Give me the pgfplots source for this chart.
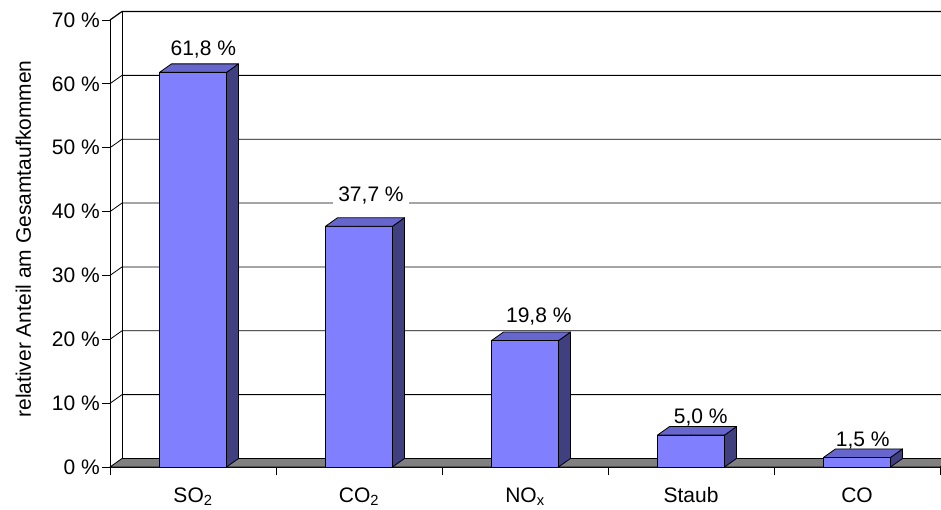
\documentclass[border=0pt]{standalone}
\usepackage{fontspec}
\setmainfont{Liberation Sans}
\usepackage{pgfplots}
\usepackage{pgfplotstable}
\pgfplotsset{compat=1.18}

\definecolor{barfront}{HTML}{8080FF}
\definecolor{bartop}{HTML}{6666CC}
\definecolor{barside}{HTML}{404080}
\definecolor{floorgray}{HTML}{808080}

% x = category centre, val = share in %, lx/ly = label offset (pt)
\pgfplotstableread{
x   val   lx    ly
0.5 61.8  10.3  16.4
1.5 37.7  12.0  24.6
2.5 19.8  13.8  18.3
3.5 5.0   9.8   11.8
4.5 1.5   5.8   10.7
}\emissions

\begin{document}
\begin{tikzpicture}[font=\fontsize{21}{25}\selectfont]
\begin{axis}[
  at={(110pt,42pt)}, anchor=south west,
  scale only axis,
  x=166pt, y=6.3857pt,
  xmin=0, xmax=5, ymin=0, ymax=70,
  clip=false,
  axis lines*=left,
  axis line style={-, line width=0.8pt},
  tick align=outside,
  major tick length=8pt,
  tick style={black, line width=0.8pt},
  xtick={0,1,2,3,4,5},
  xticklabels={},
  extra x ticks={0.5,1.5,2.5,3.5,4.5},
  extra x tick labels={SO\textsubscript{2},CO\textsubscript{2},NO\textsubscript{x},Staub,CO},
  extra x tick style={major tick length=0pt, tick label style={yshift=-17pt}},
  ytick={0,10,...,70},
  yticklabel={\pgfmathprintnumber{\tick}\ \%},
  /pgf/number format/assume math mode=true,
  tick label style={font=\fontsize{21}{25}\selectfont},
  yticklabel style={inner xsep=2pt},
]
% floor
\filldraw[fill=floorgray, draw=black, line width=0.8pt]
  (axis cs:0,0) -- ([shift={(12pt,8.5pt)}]axis cs:0,0)
  -- ([shift={(12pt,8.5pt)}]axis cs:5,0) -- (axis cs:5,0) -- cycle;
% side wall and back wall grid
\pgfplotsinvokeforeach{10,20,...,60}{
  \draw[black, line width=0.8pt] (axis cs:0,#1) -- ([shift={(12pt,8.5pt)}]axis cs:0,#1)
    -- ([shift={(12pt,8.5pt)}]axis cs:5,#1);
}
\draw[black, line width=1.2pt] (axis cs:0,70) -- ([shift={(12pt,8.5pt)}]axis cs:0,70)
    -- ([shift={(12pt,8.5pt)}]axis cs:5,70);
\draw[black, line width=0.8pt] ([shift={(12pt,8.5pt)}]axis cs:0,0) -- ([shift={(12pt,8.5pt)}]axis cs:0,70);

% front faces with value labels
\addplot[ybar, bar width=67pt, bar shift=0pt, fill=barfront, draw=black, line width=0.8pt,
  point meta=y,
  visualization depends on={\thisrow{lx} \as \labx},
  visualization depends on={\thisrow{ly} \as \laby},
  nodes near coords={\pgfmathprintnumber[fixed,fixed zerofill,precision=1,use comma]{\pgfplotspointmeta}\ \%},
  every node near coord/.append style={anchor=base, xshift=\labx pt, yshift=\laby pt,
    fill=white, draw=none, inner xsep=5pt, inner ysep=1pt, font=\fontsize{21}{25}\selectfont},
] table[x=x, y=val] {\emissions};

% top and side faces
\addplot[
  scatter, only marks, mark=*, mark size=0.1pt, mark options={draw=none, fill=none},
  point meta=y,
  visualization depends on={\thisrow{val} \as \barval},
  scatter/@pre marker code/.code={%
    \pgfmathsetlengthmacro\barh{\barval*6.3857pt}%
    \begin{pgfscope}
    \pgfsetlinewidth{0.8pt}\pgfsetroundjoin
    \pgfsetstrokecolor{black}
    \pgfsetfillcolor{barside}
    \pgfpathmoveto{\pgfqpoint{33.5pt}{0pt}}
    \pgfpathlineto{\pgfqpoint{45.5pt}{8.5pt}}
    \pgfpathlineto{\pgfpointadd{\pgfqpoint{45.5pt}{8.5pt}}{\pgfpoint{0pt}{-\barh}}}
    \pgfpathlineto{\pgfpoint{33.5pt}{-\barh}}
    \pgfpathclose
    \pgfusepath{fill,stroke}
    \pgfsetfillcolor{bartop}
    \pgfpathmoveto{\pgfqpoint{-33.5pt}{0pt}}
    \pgfpathlineto{\pgfqpoint{-21.5pt}{8.5pt}}
    \pgfpathlineto{\pgfqpoint{45.5pt}{8.5pt}}
    \pgfpathlineto{\pgfqpoint{33.5pt}{0pt}}
    \pgfpathclose
    \pgfusepath{fill,stroke}
    \end{pgfscope}
    \begin{scope}
  },
  scatter/@post marker code/.code={\end{scope}},
] table[x=x, y=val] {\emissions};
\end{axis}
\node[rotate=90, anchor=base] at (31pt,270pt) {relativer Anteil am Gesamtaufkommen};
\pgfresetboundingbox
\useasboundingbox (0,0) rectangle (941pt,509pt);
\end{tikzpicture}
\end{document}
